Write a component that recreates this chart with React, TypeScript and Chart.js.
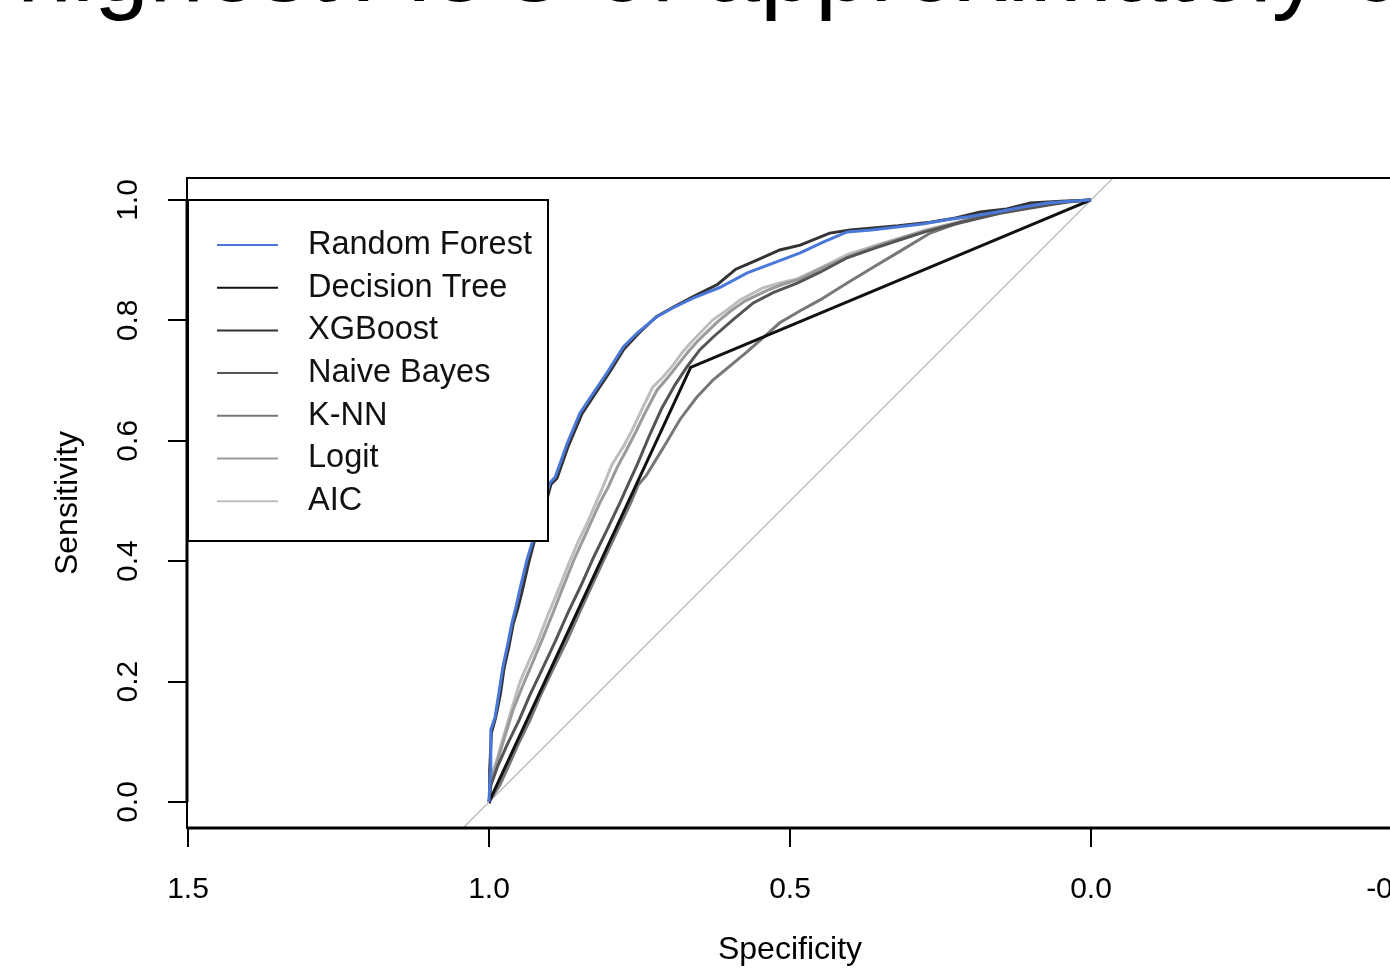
import React, { useEffect, useRef } from "react";
import { Chart, registerables } from "chart.js";

Chart.register(...registerables);

const CANVAS_W = 1420;
const CANVAS_H = 969;
const FONT = '"Liberation Sans", Arial, sans-serif';

const headline = "highest AUC of approximately 0.86";

const seriesNames = ["Random Forest", "Decision Tree", "XGBoost", "Naive Bayes", "K-NN", "Logit", "AIC"];
const seriesColors = ["#4a78d8", "#111111", "#333333", "#555555", "#777777", "#9a9a9a", "#bdbdbd"];

const xTicks = [1.5, 1.0, 0.5, 0.0, -0.5];
const yTicks = [0.0, 0.2, 0.4, 0.6, 0.8, 1.0];

const rfSpec = [1.000, 0.998, 0.997, 0.990, 0.983, 0.977, 0.969, 0.962, 0.955, 0.949, 0.937, 0.927, 0.912, 0.899, 0.890, 0.870, 0.849, 0.827, 0.804, 0.777, 0.754, 0.721, 0.694, 0.661, 0.616, 0.571, 0.528, 0.483, 0.445, 0.405, 0.365, 0.322, 0.280, 0.239, 0.198, 0.156, 0.115, 0.073, 0.035, 0.000];
const rfSens = [0.000, 0.048, 0.120, 0.141, 0.185, 0.224, 0.262, 0.297, 0.325, 0.352, 0.402, 0.435, 0.485, 0.530, 0.540, 0.596, 0.646, 0.679, 0.713, 0.756, 0.779, 0.806, 0.821, 0.837, 0.855, 0.879, 0.895, 0.912, 0.930, 0.947, 0.950, 0.955, 0.960, 0.967, 0.973, 0.980, 0.988, 0.995, 0.998, 1.000];

const dtSpec = [1.000, 0.665, 0.000];
const dtSens = [0.000, 0.722, 1.000];

const xgbSpec = [1.000, 0.999, 0.996, 0.989, 0.981, 0.975, 0.967, 0.960, 0.952, 0.945, 0.934, 0.925, 0.910, 0.897, 0.887, 0.868, 0.846, 0.825, 0.801, 0.776, 0.752, 0.722, 0.692, 0.660, 0.620, 0.590, 0.555, 0.517, 0.483, 0.434, 0.400, 0.367, 0.320, 0.267, 0.225, 0.184, 0.140, 0.101, 0.050, 0.000];
const xgbSens = [0.000, 0.050, 0.115, 0.140, 0.180, 0.222, 0.258, 0.295, 0.322, 0.350, 0.398, 0.432, 0.480, 0.528, 0.538, 0.592, 0.644, 0.676, 0.712, 0.752, 0.778, 0.806, 0.823, 0.840, 0.860, 0.885, 0.900, 0.917, 0.925, 0.945, 0.950, 0.953, 0.957, 0.963, 0.970, 0.980, 0.985, 0.995, 0.998, 1.000];

const nbSpec = [1.000, 0.997, 0.985, 0.970, 0.950, 0.932, 0.910, 0.889, 0.869, 0.847, 0.826, 0.804, 0.782, 0.769, 0.754, 0.733, 0.713, 0.691, 0.671, 0.650, 0.628, 0.595, 0.561, 0.528, 0.488, 0.450, 0.405, 0.359, 0.317, 0.276, 0.234, 0.193, 0.151, 0.110, 0.068, 0.035, 0.000];
const nbSens = [0.000, 0.028, 0.061, 0.095, 0.136, 0.178, 0.224, 0.269, 0.314, 0.360, 0.407, 0.452, 0.498, 0.527, 0.560, 0.610, 0.654, 0.693, 0.723, 0.751, 0.772, 0.801, 0.829, 0.846, 0.862, 0.880, 0.904, 0.920, 0.934, 0.947, 0.958, 0.968, 0.978, 0.985, 0.992, 0.997, 1.000];

const knnSpec = [1.000, 0.982, 0.967, 0.952, 0.932, 0.914, 0.892, 0.870, 0.850, 0.829, 0.807, 0.786, 0.764, 0.752, 0.739, 0.728, 0.706, 0.683, 0.656, 0.628, 0.600, 0.571, 0.545, 0.517, 0.483, 0.450, 0.405, 0.359, 0.317, 0.267, 0.218, 0.168, 0.118, 0.068, 0.035, 0.000];
const knnSens = [0.000, 0.028, 0.061, 0.095, 0.136, 0.178, 0.224, 0.269, 0.314, 0.360, 0.407, 0.452, 0.498, 0.527, 0.542, 0.560, 0.596, 0.635, 0.671, 0.701, 0.724, 0.748, 0.771, 0.796, 0.816, 0.834, 0.862, 0.890, 0.915, 0.945, 0.963, 0.978, 0.988, 0.995, 0.998, 1.000];

const logitSpec = [1.000, 0.997, 0.988, 0.978, 0.960, 0.942, 0.927, 0.912, 0.895, 0.879, 0.859, 0.844, 0.829, 0.816, 0.802, 0.787, 0.771, 0.756, 0.741, 0.721, 0.704, 0.688, 0.669, 0.653, 0.621, 0.598, 0.575, 0.538, 0.512, 0.483, 0.447, 0.400, 0.355, 0.314, 0.272, 0.231, 0.189, 0.148, 0.106, 0.068, 0.035, 0.000];
const logitSens = [0.000, 0.028, 0.061, 0.095, 0.153, 0.198, 0.233, 0.269, 0.311, 0.352, 0.402, 0.435, 0.468, 0.497, 0.523, 0.556, 0.586, 0.615, 0.646, 0.684, 0.704, 0.724, 0.748, 0.766, 0.797, 0.816, 0.832, 0.850, 0.860, 0.869, 0.887, 0.907, 0.924, 0.937, 0.950, 0.960, 0.970, 0.980, 0.988, 0.995, 0.998, 1.000];

const aicSpec = [1.000, 0.998, 0.993, 0.987, 0.968, 0.949, 0.935, 0.920, 0.904, 0.887, 0.865, 0.852, 0.837, 0.824, 0.811, 0.796, 0.777, 0.762, 0.749, 0.728, 0.711, 0.694, 0.678, 0.661, 0.628, 0.605, 0.583, 0.545, 0.517, 0.488, 0.450, 0.405, 0.359, 0.317, 0.276, 0.234, 0.193, 0.151, 0.110, 0.068, 0.035, 0.000];
const aicSens = [0.000, 0.028, 0.053, 0.070, 0.136, 0.198, 0.231, 0.264, 0.306, 0.347, 0.402, 0.432, 0.463, 0.493, 0.523, 0.560, 0.590, 0.618, 0.646, 0.689, 0.706, 0.726, 0.748, 0.767, 0.801, 0.817, 0.834, 0.854, 0.862, 0.869, 0.887, 0.909, 0.924, 0.937, 0.950, 0.960, 0.970, 0.980, 0.988, 0.995, 0.998, 1.000];

const diagSpec = [1.1, -0.1];
const diagSens = [-0.1, 1.1];

const seriesSpec = [rfSpec, dtSpec, xgbSpec, nbSpec, knnSpec, logitSpec, aicSpec];
const seriesSens = [rfSens, dtSens, xgbSens, nbSens, knnSens, logitSens, aicSens];

function toPoints(xs: number[], ys: number[]) {
  const n = Math.min(xs.length, ys.length);
  const out: { x: number; y: number }[] = [];
  for (let i = 0; i < n; i++) out.push({ x: xs[i], y: ys[i] });
  return out;
}

const rStylePlugin = {
  id: "rStyle",
  afterDraw(chart: any) {
    const { ctx, chartArea: ca, scales } = chart;
    const y = scales.y;
    const x = scales.x;
    ctx.save();
    ctx.strokeStyle = "#000";
    ctx.lineWidth = 2;
    ctx.strokeRect(ca.left, ca.top, ca.right - ca.left, ca.bottom - ca.top);
    ctx.lineWidth = 3;
    ctx.beginPath();
    ctx.moveTo(ca.left, y.getPixelForValue(yTicks[0]));
    ctx.lineTo(ca.left, y.getPixelForValue(yTicks[yTicks.length - 1]));
    ctx.moveTo(x.getPixelForValue(xTicks[0]), ca.bottom);
    ctx.lineTo(x.getPixelForValue(xTicks[xTicks.length - 1]), ca.bottom);
    ctx.stroke();
    ctx.fillStyle = "#000";
    ctx.font = `30px ${FONT}`;
    ctx.textAlign = "center";
    ctx.textBaseline = "middle";
    yTicks.forEach((v) => {
      const py = y.getPixelForValue(v);
      ctx.save();
      ctx.translate(129, py);
      ctx.rotate(-Math.PI / 2);
      ctx.fillText(v.toFixed(1), 0, 0);
      ctx.restore();
    });
    const lx = 188, ly = 200, lw = 360, lh = 341;
    ctx.fillStyle = "#fff";
    ctx.fillRect(lx, ly, lw, lh);
    ctx.strokeStyle = "#000";
    ctx.lineWidth = 2;
    ctx.strokeRect(lx, ly, lw, lh);
    ctx.font = `32.5px ${FONT}`;
    ctx.textAlign = "left";
    ctx.textBaseline = "middle";
    seriesNames.forEach((name, i) => {
      const ry = 245 + i * 42.7;
      ctx.strokeStyle = seriesColors[i];
      ctx.lineWidth = 2;
      ctx.beginPath();
      ctx.moveTo(217, ry);
      ctx.lineTo(278, ry);
      ctx.stroke();
      ctx.fillStyle = "#111";
      ctx.fillText(name, 308, ry);
    });
    ctx.restore();
  },
};

export default function App() {
  const ref = useRef<HTMLCanvasElement | null>(null);
  useEffect(() => {
    if (!ref.current) return;
    const datasets: any[] = seriesNames.map((name, i) => ({
      label: name,
      data: toPoints(seriesSpec[i], seriesSens[i]),
      borderColor: seriesColors[i],
      backgroundColor: seriesColors[i],
      borderWidth: 3,
      pointRadius: 0,
      showLine: true,
      tension: 0,
      fill: false,
    }));
    datasets.push({
      label: "chance",
      data: toPoints(diagSpec, diagSens),
      borderColor: "#b8b8b8",
      borderWidth: 1.3,
      pointRadius: 0,
      showLine: true,
      tension: 0,
      fill: false,
    });
    const tickFont = { family: FONT, size: 30 };
    const chart = new Chart(ref.current, {
      type: "scatter",
      data: { datasets },
      options: {
        responsive: false,
        animation: false,
        devicePixelRatio: 1,
        layout: { padding: { top: 178, right: CANVAS_W - 1393, left: 0, bottom: 0 } },
        plugins: { legend: { display: false }, tooltip: { enabled: false }, title: { display: false } },
        scales: {
          x: {
            type: "linear",
            reverse: true,
            min: -0.5017,
            max: 1.5017,
            afterFit: (s: any) => { s.height = CANVAS_H - 828; s.paddingLeft = 0; s.paddingRight = 0; },
            afterBuildTicks: (s: any) => { s.ticks = xTicks.map((v) => ({ value: v })); },
            grid: { display: true, drawOnChartArea: false, drawTicks: true, tickLength: 19, lineWidth: 2, color: "#000" },
            border: { display: false },
            ticks: {
              callback: (v: any) => Number(v).toFixed(1),
              font: tickFont,
              color: "#000",
              padding: 25,
              maxRotation: 0,
              minRotation: 0,
              autoSkip: false,
            },
            title: { display: true, text: "Specificity", font: { family: FONT, size: 32 }, color: "#000", padding: { top: 0, bottom: 0 } },
          },
          y: {
            type: "linear",
            min: -0.0432,
            max: 1.0365,
            afterFit: (s: any) => { s.width = 187; s.paddingTop = 0; s.paddingBottom = 0; },
            afterBuildTicks: (s: any) => { s.ticks = yTicks.map((v) => ({ value: v })); },
            grid: { display: true, drawOnChartArea: false, drawTicks: true, tickLength: 19, lineWidth: 2, color: "#000" },
            border: { display: false },
            ticks: { display: false },
            title: { display: true, text: "Sensitivity", font: { family: FONT, size: 32 }, color: "#000", padding: { top: 49, bottom: 0 } },
          },
        },
      },
      plugins: [rStylePlugin],
    } as any);
    return () => chart.destroy();
  }, []);

  return (
    <div style={{ position: "absolute", left: 0, top: 0, width: 1390, height: 969, overflow: "hidden", background: "#fff" }}>
      <div
        style={{
          position: "absolute",
          left: 17,
          top: -83,
          fontFamily: FONT,
          fontSize: 99,
          lineHeight: "99px",
          whiteSpace: "nowrap",
          color: "#000",
        }}
      >
        {headline}
      </div>
      <canvas ref={ref} width={CANVAS_W} height={CANVAS_H} style={{ position: "absolute", left: 0, top: 0, display: "block" }} />
    </div>
  );
}
